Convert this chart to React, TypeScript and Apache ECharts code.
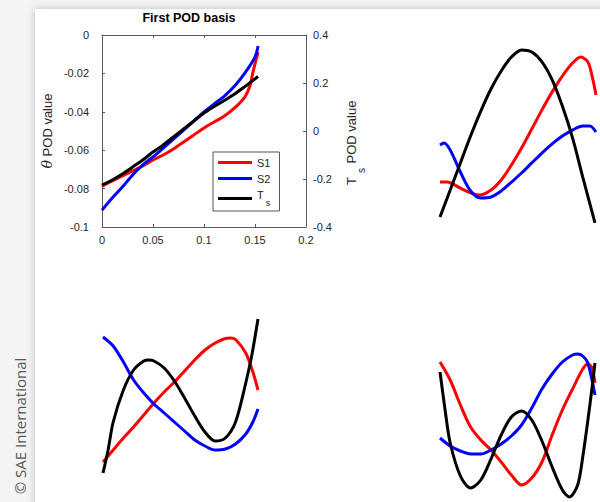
import React, { useEffect, useRef } from "react";
import * as echarts from "echarts";

// ---- First POD basis (left axis: S1, S2; right axis: Ts) ----
const mainRedX = [0, 0.01, 0.02, 0.03, 0.04, 0.05, 0.06, 0.07, 0.08, 0.09, 0.1, 0.11, 0.12, 0.13, 0.14, 0.145, 0.148, 0.151, 0.153];
const mainRed = [-0.0787, -0.076, -0.0734, -0.0708, -0.0682, -0.0651, -0.0625, -0.0594, -0.0557, -0.0521, -0.0484, -0.0453, -0.0422, -0.038, -0.0323, -0.0266, -0.0193, -0.013, -0.0089];
const mainBlueX = [0, 0.01, 0.02, 0.03, 0.04, 0.05, 0.06, 0.07, 0.08, 0.09, 0.1, 0.11, 0.12, 0.13, 0.14, 0.15, 0.153];
const mainBlue = [-0.0912, -0.0849, -0.0792, -0.0729, -0.0677, -0.0635, -0.0589, -0.0542, -0.0495, -0.0448, -0.0401, -0.0359, -0.0318, -0.0266, -0.0198, -0.0115, -0.0057];
const mainBlackX = [0, 0.01, 0.02, 0.03, 0.04, 0.05, 0.06, 0.07, 0.08, 0.09, 0.1, 0.11, 0.12, 0.13, 0.14, 0.153];
const mainBlack = [-0.225, -0.204, -0.179, -0.15, -0.121, -0.0875, -0.0583, -0.025, 0.0083, 0.0417, 0.075, 0.102, 0.127, 0.154, 0.185, 0.227];

// ---- Second basis ----
const b2RedX = [0, 0.007, 0.02, 0.03, 0.039, 0.05, 0.06, 0.07, 0.08, 0.09, 0.1, 0.11, 0.12, 0.13, 0.138, 0.145, 0.15, 0.153];
const b2Red = [-0.213, -0.213, -0.238, -0.258, -0.267, -0.246, -0.204, -0.142, -0.071, 0.008, 0.088, 0.163, 0.229, 0.283, 0.308, 0.288, 0.213, 0.15];
const b2BlueX = [0, 0.004, 0.01, 0.02, 0.03, 0.04, 0.05, 0.06, 0.07, 0.08, 0.09, 0.1, 0.11, 0.12, 0.13, 0.14, 0.147, 0.153];
const b2Blue = [-0.058, -0.05, -0.079, -0.171, -0.25, -0.279, -0.275, -0.25, -0.213, -0.175, -0.133, -0.092, -0.054, -0.021, 0.004, 0.021, 0.021, -0.004];
const b2BlackX = [0, 0.01, 0.02, 0.03, 0.04, 0.05, 0.06, 0.07, 0.08, 0.09, 0.1, 0.11, 0.12, 0.13, 0.14, 0.152];
const b2Black = [-0.358, -0.246, -0.133, -0.021, 0.083, 0.175, 0.25, 0.308, 0.338, 0.329, 0.288, 0.213, 0.104, -0.029, -0.192, -0.383];

// ---- Third basis ----
const b3RedX = [0, 0.01, 0.02, 0.03, 0.04, 0.05, 0.06, 0.07, 0.08, 0.09, 0.1, 0.11, 0.12, 0.125, 0.13, 0.14, 0.147, 0.152];
const b3Red = [-0.248, -0.2, -0.152, -0.108, -0.06, -0.012, 0.032, 0.072, 0.116, 0.16, 0.2, 0.228, 0.246, 0.248, 0.242, 0.188, 0.112, 0.04];
const b3BlueX = [0, 0.01, 0.02, 0.03, 0.04, 0.05, 0.06, 0.07, 0.08, 0.09, 0.1, 0.11, 0.12, 0.13, 0.14, 0.147, 0.152];
const b3Blue = [0.252, 0.216, 0.152, 0.08, 0.028, -0.016, -0.052, -0.088, -0.124, -0.16, -0.184, -0.2, -0.196, -0.176, -0.136, -0.088, -0.036];
const b3BlackX = [0, 0.005, 0.01, 0.02, 0.03, 0.04, 0.045, 0.05, 0.06, 0.07, 0.08, 0.09, 0.1, 0.11, 0.12, 0.13, 0.14, 0.146, 0.152];
const b3Black = [-0.292, -0.2, -0.088, 0.04, 0.12, 0.156, 0.16, 0.156, 0.128, 0.076, 0.008, -0.064, -0.128, -0.164, -0.152, -0.088, 0.068, 0.18, 0.324];

// ---- Fourth basis ----
const b4RedX = [0, 0.01, 0.02, 0.03, 0.04, 0.05, 0.06, 0.07, 0.08, 0.09, 0.1, 0.11, 0.12, 0.13, 0.14, 0.145, 0.149, 0.152];
const b4Red = [0.152, 0.08, -0.02, -0.108, -0.16, -0.2, -0.248, -0.3, -0.34, -0.312, -0.248, -0.14, -0.04, 0.044, 0.124, 0.144, 0.128, 0.068];
const b4BlueX = [0, 0.01, 0.02, 0.03, 0.04, 0.05, 0.06, 0.07, 0.08, 0.09, 0.1, 0.11, 0.12, 0.13, 0.135, 0.14, 0.145, 0.152];
const b4Blue = [-0.152, -0.184, -0.204, -0.216, -0.216, -0.2, -0.176, -0.144, -0.1, -0.032, 0.044, 0.104, 0.152, 0.18, 0.184, 0.176, 0.148, 0.02];
const b4BlackX = [0, 0.005, 0.01, 0.02, 0.03, 0.04, 0.05, 0.06, 0.07, 0.08, 0.09, 0.1, 0.11, 0.12, 0.127, 0.135, 0.14, 0.147, 0.152];
const b4Black = [0.112, -0.04, -0.172, -0.304, -0.352, -0.32, -0.236, -0.14, -0.068, -0.044, -0.08, -0.164, -0.268, -0.36, -0.388, -0.34, -0.228, -0.02, 0.148];

const seriesNames = ["S1", "S2", "T_s"];
const seriesColors = ["#ff0000", "#0000ff", "#000000"];
const xTicks = { min: 0, max: 0.2, interval: 0.05 };
const xSpan = { min: 0, max: 0.153 };
const thetaTicks = { min: -0.1, max: 0, interval: 0.02 };
const tsTicks = { min: -0.4, max: 0.4, interval: 0.2 };

const FONT = "'Liberation Sans', Arial, Helvetica, sans-serif";
const INK = "#262626";
const AXIS = "#5a5a5a";

const zip = (xs: number[], ys: number[]) => xs.map((x, i) => [x, ys[i]]);

const line = (name: string, xs: number[], ys: number[], xi: number, yi: number) => ({
  type: "line",
  name,
  xAxisIndex: xi,
  yAxisIndex: yi,
  data: zip(xs, ys),
  smooth: 0.3,
  showSymbol: false,
  symbol: "none",
  clip: false,
  lineStyle: { width: 3, color: seriesColors[seriesNames.indexOf(name)] },
  itemStyle: { color: seriesColors[seriesNames.indexOf(name)] },
  z: name === "T_s" ? 3 : 2,
});

// Panels without visible axes share the same data span
const hiddenX = (gridIndex: number) => ({
  gridIndex,
  type: "value",
  ...xSpan,
  show: false,
});
const hiddenY = (gridIndex: number) => ({
  gridIndex,
  type: "value",
  min: tsTicks.min,
  max: tsTicks.max,
  show: false,
});

const boxAxis = {
  axisLine: { show: true, onZero: false, lineStyle: { color: AXIS, width: 1 } },
  axisTick: { show: true, inside: true, length: 3, lineStyle: { color: AXIS } },
  splitLine: { show: false },
};

export default function App() {
  const ref = useRef<HTMLDivElement>(null);

  useEffect(() => {
    if (!ref.current) return;
    const chart = echarts.init(ref.current, undefined, { renderer: "svg" });
    chart.setOption({
      animation: false,
      backgroundColor: "#f4f4f4",
      title: {
        text: "First POD basis",
        left: 189,
        top: 11,
        padding: 0,
        textAlign: "center",
        textStyle: { fontFamily: FONT, fontSize: 12.5, fontWeight: "bold", color: "#000" },
      },
      legend: {
        data: seriesNames,
        orient: "vertical",
        left: 213,
        top: 152,
        padding: [5, 9, 4, 5],
        itemWidth: 34,
        itemHeight: 3,
        itemGap: 5,
        itemTextGap: 3,
        icon: "rect",
        backgroundColor: "#ffffff",
        borderColor: "#555555",
        borderWidth: 1,
        borderRadius: 0,
        selectedMode: false,
        formatter: (n: string) => (n === "T_s" ? "{t|T}{sub|s}" : n),
        textStyle: {
          fontFamily: FONT,
          fontSize: 11,
          color: INK,
          rich: {
            t: { fontFamily: FONT, fontSize: 11, color: INK, padding: [0, 0, 8, 0] },
            sub: { fontFamily: FONT, fontSize: 9, color: INK, padding: [8, 0, 0, 2] },
          },
        },
      },
      grid: [
        { left: 102, top: 35, width: 204, height: 192 },
        { left: 440, top: 35, width: 156, height: 192 },
        { left: 103, top: 300, width: 156, height: 200 },
        { left: 440, top: 300, width: 156, height: 200 },
      ],
      xAxis: [
        {
          gridIndex: 0,
          type: "value",
          position: "bottom",
          ...xTicks,
          ...boxAxis,
          axisLabel: { fontFamily: FONT, fontSize: 11, color: INK, margin: 7 },
        },
        {
          gridIndex: 0,
          type: "value",
          position: "top",
          ...xTicks,
          ...boxAxis,
          axisLabel: { show: false },
        },
        hiddenX(1),
        hiddenX(2),
        hiddenX(3),
      ],
      yAxis: [
        {
          gridIndex: 0,
          type: "value",
          position: "left",
          ...thetaTicks,
          ...boxAxis,
          axisLabel: { fontFamily: FONT, fontSize: 11, color: INK, margin: 13 },
          name: "{th|θ} POD value",
          nameLocation: "middle",
          nameRotate: 90,
          nameGap: 48,
          nameTextStyle: {
            fontFamily: FONT,
            fontSize: 13,
            color: INK,
            rich: {
              th: { fontFamily: "'DejaVu Serif', serif", fontStyle: "italic", fontSize: 14, color: INK },
            },
          },
        },
        {
          gridIndex: 0,
          type: "value",
          position: "right",
          ...tsTicks,
          ...boxAxis,
          axisLabel: { fontFamily: FONT, fontSize: 11, color: INK, margin: 7 },
        },
        hiddenY(1),
        hiddenY(2),
        hiddenY(3),
      ],
      graphic: [
        {
          type: "rect",
          z: -10,
          silent: true,
          shape: { x: 35, y: 9, width: 580, height: 510 },
          style: { fill: "#ffffff", shadowBlur: 8, shadowColor: "rgba(0,0,0,0.22)" },
        },
        {
          type: "text",
          x: 20,
          y: 426,
          rotation: Math.PI / 2,
          silent: true,
          style: {
            text: "© SAE International",
            fontFamily: "'Open Sans', 'Noto Sans', sans-serif",
            fontSize: 15,
            fill: "#555555",
            align: "center",
            verticalAlign: "middle",
          },
        },
        {
          type: "text",
          x: 351,
          y: 181,
          rotation: Math.PI / 2,
          silent: true,
          style: { text: "T", fontFamily: FONT, fontSize: 13, fill: INK, align: "center", verticalAlign: "middle" },
        },
        {
          type: "text",
          x: 361.5,
          y: 170.5,
          rotation: Math.PI / 2,
          silent: true,
          style: { text: "s", fontFamily: FONT, fontSize: 10, fill: INK, align: "center", verticalAlign: "middle" },
        },
        {
          type: "text",
          x: 351,
          y: 132,
          rotation: Math.PI / 2,
          silent: true,
          style: { text: "POD value", fontFamily: FONT, fontSize: 13, fill: INK, align: "center", verticalAlign: "middle" },
        },
      ],
      series: [
        line("S1", mainRedX, mainRed, 0, 0),
        line("S2", mainBlueX, mainBlue, 0, 0),
        line("T_s", mainBlackX, mainBlack, 0, 1),
        line("S1", b2RedX, b2Red, 2, 2),
        line("S2", b2BlueX, b2Blue, 2, 2),
        line("T_s", b2BlackX, b2Black, 2, 2),
        line("S1", b3RedX, b3Red, 3, 3),
        line("S2", b3BlueX, b3Blue, 3, 3),
        line("T_s", b3BlackX, b3Black, 3, 3),
        line("S1", b4RedX, b4Red, 4, 4),
        line("S2", b4BlueX, b4Blue, 4, 4),
        line("T_s", b4BlackX, b4Black, 4, 4),
      ],
    });
    return () => chart.dispose();
  }, []);

  return (
    <div
      ref={ref}
      style={{ position: "fixed", left: 0, top: 0, width: 600, height: 502 }}
    />
  );
}
